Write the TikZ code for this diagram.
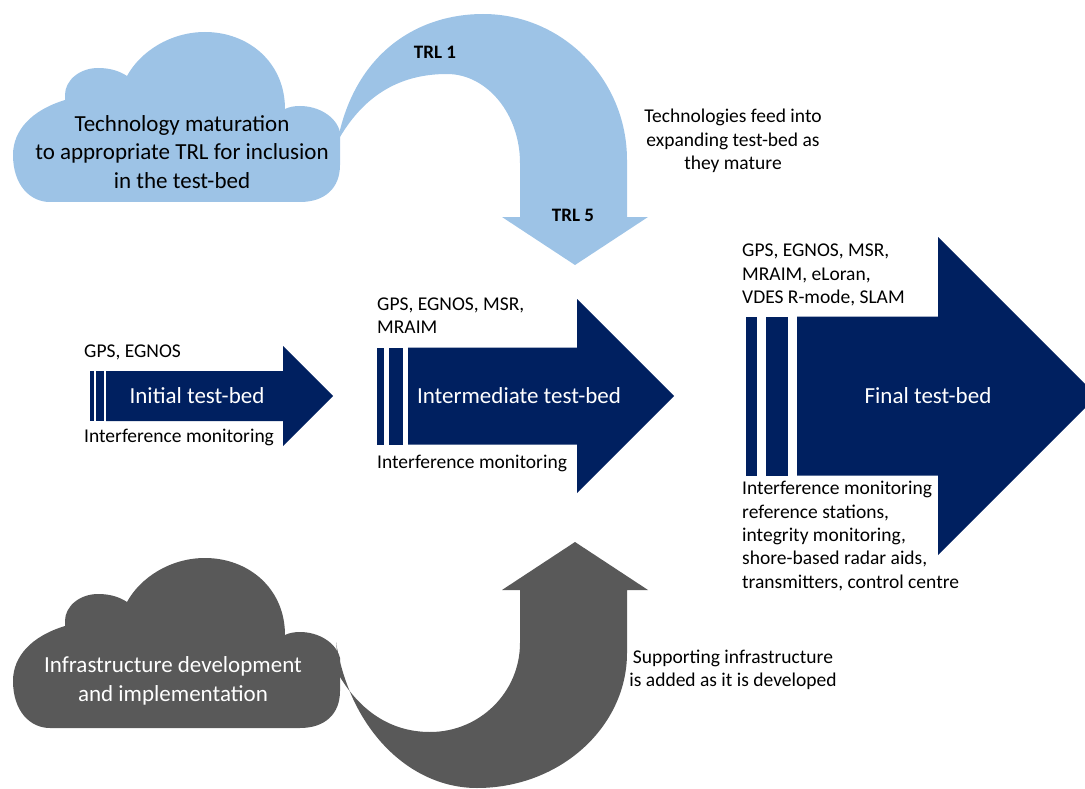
\documentclass[tikz,border=0pt]{standalone}
\usepackage{fontspec}
\setmainfont{Carlito}
\definecolor{skyblue}{HTML}{9DC3E6}
\definecolor{navy}{HTML}{002060}
\definecolor{slate}{HTML}{595959}
\newcommand{\cloudpath}{(50,202) -- (300,202) .. controls (325,202) and (340,188) .. (340,165) -- (340,132) .. controls (336,116) and (318,106) .. (300,106) .. controls (294,106) and (289,107) .. (285,109) .. controls (285,62) and (248,32) .. (205,32) .. controls (170,32) and (140,52) .. (127,76) .. controls (118,70) and (108,68) .. (98,68) .. controls (80,68) and (65,80) .. (65,95) -- (65,100) .. controls (32,110) and (13,130) .. (13,155) .. controls (13,185) and (30,202) .. (50,202) -- cycle}
\begin{document}
\begin{tikzpicture}
  [x=1pt,y=-1pt,
   note/.style={inner sep=0pt,font=\fontsize{19.5}{23.3}\selectfont},
   cloudtxt/.style={inner sep=0pt,align=center,font=\fontsize{23}{28.5}\selectfont},
   bedtxt/.style={inner sep=0pt,text=white,font=\fontsize{23}{28}\selectfont},
   trl/.style={inner sep=0pt,font=\fontsize{19}{23}\selectfont\bfseries}]
  \clip (0,0) rectangle (1085,789);

  % curved arrows out of the clouds
  \fill[skyblue] (340,130) .. controls (360,50) and (420,14) .. (483,14) .. controls (562,14) and (627,79) .. (627,160) -- (627,217) -- (648,217) -- (575,265) -- (502,217) -- (520,217) -- (520,163) .. controls (520,114) and (487,74) .. (447,74) .. controls (400,74) and (365,95) .. (340,137) -- cycle;
  \fill[slate] (336,642) .. controls (350,730) and (410,788) .. (477,788) .. controls (560,788) and (627,727) .. (627,653) -- (627,590) -- (648,590) -- (575,542) -- (502,590) -- (520,590) -- (520,643) .. controls (520,692) and (480,732) .. (430,732) .. controls (390,732) and (360,710) .. (340,677) -- cycle;

  \fill[skyblue] \cloudpath;
  \begin{scope}[shift={(0,526)}]
    \fill[slate] \cloudpath;
  \end{scope}

  % striped block arrows: left x / half height / head start / stripe / gap
  \foreach \x/\h/\xh/\w/\g in {90/25/283/4/2, 377/48.5/577/7/5, 746/79.5/938/11/9}
  {
    \fill[navy] (\x,396-\h) rectangle (\x+\w,396+\h);
    \fill[navy] (\x+\w+\g,396-\h) rectangle (\x+3*\w+\g,396+\h);
    \fill[navy] (\x+3*\w+2*\g,396-\h) -- (\xh,396-\h) -- (\xh,396-2*\h) -- (\xh+2*\h,396)
      -- (\xh,396+2*\h) -- (\xh,396+\h) -- (\x+3*\w+2*\g,396+\h) -- cycle;
  }

  \node[cloudtxt] (tech) at (182,152) {Technology maturation\\to appropriate TRL for inclusion\\in the test-bed};
  \node[cloudtxt,text=white] (infra) at (173,681) {Infrastructure development\\and implementation};
  \node[trl] (trl1) at (435,52) {TRL 1};
  \node[trl] (trl5) at (573,215) {TRL 5};
  \node[note,align=center] (feed) at (733,141) {Technologies feed into\\expanding test-bed as\\they mature};
  \node[note,align=center] (supp) at (733,670) {Supporting infrastructure\\is added as it is developed};

  \node[bedtxt] (init) at (197,396) {Initial test-bed};
  \node[bedtxt] (inter) at (519,396) {Intermediate test-bed};
  \node[bedtxt] (final) at (928,396) {Final test-bed};

  \node[note,anchor=west] (initsig) at (84,352) {GPS, EGNOS};
  \node[note,anchor=west] (initinf) at (84,437) {Interference monitoring};
  \node[note,anchor=west,align=left] (intersig) at (377,316) {GPS, EGNOS, MSR,\\MRAIM};
  \node[note,anchor=west] (interinf) at (377,463) {Interference monitoring};
  \node[note,anchor=west,align=left] (finalsig) at (742,275) {GPS, EGNOS, MSR,\\MRAIM, eLoran,\\VDES R-mode, SLAM};
  \node[note,anchor=west,align=left] (finalinf) at (742,536) {Interference monitoring\\reference stations,\\integrity monitoring,\\shore-based radar aids,\\transmitters, control centre};
\end{tikzpicture}
\end{document}
